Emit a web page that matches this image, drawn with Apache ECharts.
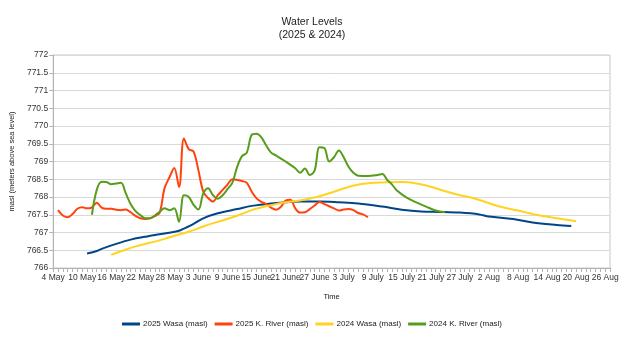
<!DOCTYPE html>
<html>
<head>
<meta charset="utf-8">
<script src="https://cdn.jsdelivr.net/npm/echarts@6/dist/echarts.min.js"></script>
<style>html,body{margin:0;padding:0;background:#fff}#c{width:624px;height:344px}</style>
</head>
<body>
<div id="c"></div>
<script>
// x = day index counted from 4 May (0 = 4 May, 114 = 26 Aug)
const tickLabels = ['4 May','10 May','16 May','22 May','28 May','3 June','9 June','15 June','21 June','27 June','3 July','9 July','15 July','21 July','27 July','2 Aug','8 Aug','14 Aug','20 Aug','26 Aug'];
const seriesNames = ['2025 Wasa (masl)','2025 K. River (masl)','2024 Wasa (masl)','2024 K. River (masl)'];

const wasa2025Days = [7,9,10,13,16,19,21,24,26,27,28,29,31,34,38,41,45,48,51,55,59,63,68,72,76,80,84,88,90,95,99,104,107];
const wasa2025Vals = [766.41,766.48,766.54,766.68,766.80,766.88,766.93,766.99,767.05,767.11,767.17,767.24,767.40,767.54,767.66,767.75,767.82,767.85,767.87,767.87,767.85,767.82,767.73,767.64,767.59,767.58,767.56,767.51,767.45,767.38,767.28,767.21,767.18];

const river2025Days = [1,2,3,4,5,6,7,8,9,10,11,12,13,14,15,16,17,18,19,20,21,22,23,24,25,26,27,28,29,30,31,32,33,34,35,36,37,38,39,40,41,42,43,44,45,46,47,48,49,50,51,52,53,54,55,56,57,58,59,60,61,62,63,64,65];
const river2025Vals = [767.63,767.48,767.43,767.52,767.67,767.71,767.68,767.71,767.84,767.70,767.67,767.67,767.64,767.63,767.65,767.57,767.47,767.40,767.38,767.40,767.46,767.56,768.25,768.55,768.82,768.28,769.65,769.35,769.28,768.75,768.15,767.97,767.87,768.05,768.20,768.35,768.50,768.48,768.45,768.40,768.15,767.96,767.86,767.80,767.70,767.64,767.72,767.90,767.92,767.68,767.56,767.57,767.66,767.76,767.86,767.80,767.74,767.68,767.62,767.65,767.66,767.63,767.55,767.51,767.43];

const wasa2024Days = [12,14,17,20,23,25,28,31,34,38,41,45,48,51,55,58,61,64,68,72,75,78,81,84,87,92,96,100,104,108];
const wasa2024Vals = [766.37,766.47,766.61,766.71,766.82,766.91,767.02,767.17,767.30,767.47,767.63,767.77,767.85,767.90,768.02,768.15,768.28,768.37,768.41,768.42,768.38,768.29,768.16,768.05,767.96,767.74,767.62,767.49,767.40,767.32];

const river2024Days = [8,9,10,11,12,13,14,15,16,17,18,19,20,21,22,23,24,25,26,27,28,29,30,31,32,33,34,35,36,37,38,39,40,41,42,43,44,45,46,48,50,51,52,53,54,55,56,57,58,59,60,61,62,63,65,67,68,69,70,71,73,75,77,79,81];
const river2024Vals = [767.50,768.20,768.43,768.42,768.36,768.38,768.40,768.10,767.80,767.60,767.49,767.40,767.40,767.48,767.58,767.68,767.63,767.68,767.30,768.05,768.00,767.78,767.65,768.10,768.25,768.05,767.95,768.05,768.22,768.40,768.85,769.15,769.25,769.75,769.78,769.68,769.45,769.25,769.17,769.00,768.81,768.68,768.80,768.62,768.75,769.40,769.38,769.00,769.12,769.31,769.12,768.85,768.68,768.60,768.59,768.62,768.65,768.48,768.35,768.18,767.98,767.85,767.73,767.62,767.57];

const colors = ['#004586','#ff420e','#ffd320','#579d1c'];

function pairs(d, v){ return d.map((x,i)=>[x, v[i]]); }
const datasets = [pairs(wasa2025Days,wasa2025Vals), pairs(river2025Days,river2025Vals), pairs(wasa2024Days,wasa2024Vals), pairs(river2024Days,river2024Vals)];

const chart = echarts.init(document.getElementById('c'), null, {renderer:'canvas'});
const font = 'Liberation Sans, Arial, sans-serif';
chart.setOption({
  animation:false,
  color: colors,
  title:{
    text:'Water Levels\n(2025 & 2024)',
    left:'center', top:11,
    textStyle:{fontFamily:font, fontSize:10.5, fontWeight:'normal', color:'#222', lineHeight:13}
  },
  legend:{
    data: seriesNames,
    bottom:11, left:'center',
    icon:'rect', itemWidth:18, itemHeight:3, itemGap:7,
    textStyle:{fontFamily:font, fontSize:8, color:'#222', padding:[0,0,0,-2]}
  },
  grid:{left:53, right:14, top:55, bottom:76, show:true, borderColor:'#c8c8c8', borderWidth:1},
  xAxis:{
    type:'value', min:0, max:115, interval:6,
    name:'Time', nameLocation:'middle', nameGap:25,
    nameTextStyle:{fontFamily:font, fontSize:7.5, color:'#222'},
    axisLine:{show:true, lineStyle:{color:'#b3b3b3'}},
    axisTick:{show:true, length:4, lineStyle:{color:'#b3b3b3'}},
    minorTick:{show:true, splitNumber:6, length:4, lineStyle:{color:'#b3b3b3'}},
    splitLine:{show:false},
    axisLabel:{fontFamily:font, fontSize:8.5, color:'#333', margin:5,
      formatter:function(v){ const k=v/6; return Number.isInteger(k) && tickLabels[k] ? tickLabels[k] : ''; }}
  },
  yAxis:{
    type:'value', min:766, max:772, interval:0.5,
    name:'masl (meters above sea level)', nameLocation:'middle', nameGap:36,
    nameTextStyle:{fontFamily:font, fontSize:7.5, color:'#222'},
    axisLine:{show:true, lineStyle:{color:'#b3b3b3'}},
    axisTick:{show:true, length:4, lineStyle:{color:'#b3b3b3'}},
    splitLine:{show:true, lineStyle:{color:'#d9d9d9'}},
    axisLabel:{fontFamily:font, fontSize:8.5, color:'#333', margin:5}
  },
  series: seriesNames.map((n,i)=>({
    name:n, type:'line', data:datasets[i], showSymbol:false, symbol:'none',
    smooth:0.35, connectNulls:true,
    lineStyle:{width:2, color:colors[i]}
  }))
});
</script>
</body>
</html>
